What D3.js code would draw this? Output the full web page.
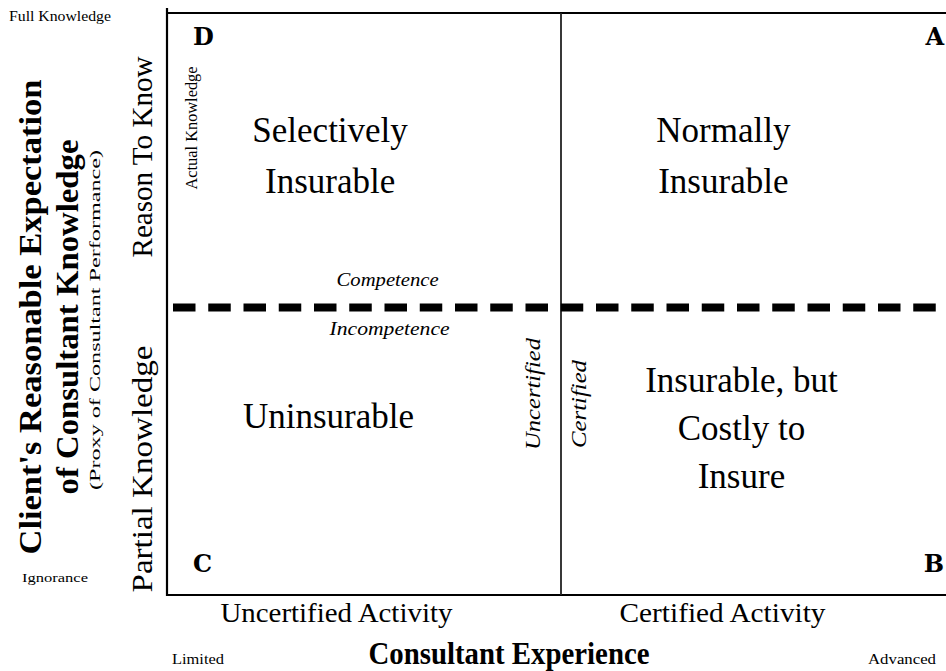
<!DOCTYPE html>
<html>
<head>
<meta charset="utf-8">
<script src="https://cdn.jsdelivr.net/npm/d3@7"></script>
<style>
  html, body { margin: 0; padding: 0; background: #fff; }
  svg { display: block; }
  text { font-family: "Liberation Serif", "Times New Roman", serif; fill: #000; }
</style>
</head>
<body>
<svg id="chart" width="946" height="671"></svg>
<script>
// ---------- data ----------
const xCategories = ["Uncertified Activity", "Certified Activity"];
const yCategories = ["Partial Knowledge", "Reason To Know"];
const quadrantLetters = ["D", "A", "C", "B"];
const quadrantLabels = [
  ["Selectively", "Insurable"],
  ["Normally", "Insurable"],
  ["Uninsurable"],
  ["Insurable, but", "Costly to", "Insure"]
];
const thresholdLabels = ["Competence", "Incompetence"];
const certificationLabels = ["Uncertified", "Certified"];
const competenceThreshold = 0.494;
const xAxisTitle = "Consultant Experience";
const xAxisEnds = ["Limited", "Advanced"];
const yAxisTitle = ["Client's Reasonable Expectation", "of Consultant Knowledge"];
const yAxisSubtitle = "(Proxy of Consultant Performance)";
const yAxisEnds = ["Ignorance", "Full Knowledge"];
const actualKnowledgeLabel = "Actual Knowledge";

// ---------- layout ----------
const svg = d3.select("#chart");
const plot = { left: 167, right: 955, top: 13, bottom: 595 };

const x = d3.scaleBand().domain(xCategories).range([plot.left, plot.right]);
const y = d3.scaleLinear().domain([0, 1]).range([plot.bottom, plot.top]);
const bw = x.bandwidth();
const midX = x(xCategories[1]);
const thrY = y(competenceThreshold);

// ---------- frame ----------
const g = svg.append("g");
g.append("line").attr("x1", plot.left).attr("x2", plot.right)
  .attr("y1", plot.top).attr("y2", plot.top)
  .attr("stroke", "#000").attr("stroke-width", 2);
g.append("line").attr("x1", plot.left).attr("x2", plot.right)
  .attr("y1", plot.bottom).attr("y2", plot.bottom)
  .attr("stroke", "#000").attr("stroke-width", 2);
g.append("line").attr("x1", plot.left).attr("x2", plot.left)
  .attr("y1", plot.top - 5).attr("y2", plot.bottom + 1)
  .attr("stroke", "#000").attr("stroke-width", 2.2);
g.append("line").attr("x1", plot.right).attr("x2", plot.right)
  .attr("y1", plot.top).attr("y2", plot.bottom)
  .attr("stroke", "#000").attr("stroke-width", 2);
g.append("line").attr("x1", midX).attr("x2", midX)
  .attr("y1", plot.top).attr("y2", plot.bottom)
  .attr("stroke", "#222").attr("stroke-width", 1.8);

// dashed competence line
g.append("line").attr("x1", plot.left + 6).attr("x2", plot.right)
  .attr("y1", thrY).attr("y2", thrY)
  .attr("stroke", "#000").attr("stroke-width", 8)
  .attr("stroke-dasharray", "22.5,12.75");

// ---------- quadrant letters ----------
const letterPos = [
  { x: plot.left + 26, y: plot.top + 32, anchor: "start" },
  { x: plot.right - 11, y: plot.top + 32, anchor: "end" },
  { x: plot.left + 26, y: plot.bottom - 23, anchor: "start" },
  { x: plot.right - 11, y: plot.bottom - 23, anchor: "end" }
];
g.selectAll("text.letter").data(quadrantLetters).join("text")
  .attr("class", "letter")
  .attr("x", (d, i) => letterPos[i].x)
  .attr("y", (d, i) => letterPos[i].y)
  .attr("text-anchor", (d, i) => letterPos[i].anchor)
  .style("font-family", "'DejaVu Serif', serif")
  .style("font-weight", "bold")
  .style("font-size", "24px")
  .text(d => d);

// ---------- quadrant labels ----------
const labelLayout = [
  { cx: x(xCategories[0]) + bw * 0.414, y0: plot.top + 129, dy: 51 },
  { cx: x(xCategories[1]) + bw * 0.412, y0: plot.top + 129, dy: 51 },
  { cx: x(xCategories[0]) + bw * 0.41, y0: thrY + 121, dy: 48 },
  { cx: x(xCategories[1]) + bw * 0.458, y0: thrY + 85, dy: 48 }
];
quadrantLabels.forEach((lines, i) => {
  lines.forEach((t, j) => {
    g.append("text")
      .attr("x", labelLayout[i].cx)
      .attr("y", labelLayout[i].y0 + j * labelLayout[i].dy)
      .attr("text-anchor", "middle")
      .style("font-size", "35px")
      .text(t);
  });
});

// ---------- competence labels ----------
const compCx = x(xCategories[0]) + bw * 0.565;
g.append("text").attr("x", compCx - 2).attr("y", thrY - 21)
  .attr("text-anchor", "middle").style("font-style", "italic").style("font-size", "18px")
  .attr("textLength", 102).attr("lengthAdjust", "spacingAndGlyphs")
  .text(thresholdLabels[0]);
g.append("text").attr("x", compCx).attr("y", thrY + 28)
  .attr("text-anchor", "middle").style("font-style", "italic").style("font-size", "18px")
  .attr("textLength", 120).attr("lengthAdjust", "spacingAndGlyphs")
  .text(thresholdLabels[1]);

// ---------- certification labels (vertical) ----------
const certLayout = [
  { bx: midX - 21, cy: 394, len: 112 },
  { bx: midX + 25, cy: 404, len: 88 }
];
certificationLabels.forEach((t, i) => {
  g.append("text")
    .attr("transform", `translate(${certLayout[i].bx},${certLayout[i].cy}) rotate(-90)`)
    .attr("text-anchor", "middle")
    .style("font-style", "italic").style("font-size", "20px")
    .attr("textLength", certLayout[i].len).attr("lengthAdjust", "spacingAndGlyphs")
    .text(t);
});

// Actual Knowledge
g.append("text")
  .attr("transform", `translate(${plot.left + 30},${128}) rotate(-90)`)
  .attr("text-anchor", "middle")
  .style("font-size", "16px")
  .attr("textLength", 123).attr("lengthAdjust", "spacingAndGlyphs")
  .text(actualKnowledgeLabel);

// ---------- x axis band labels ----------
const xCatLayout = { "Uncertified Activity": { c: 0.43, len: 232 }, "Certified Activity": { c: 0.41, len: 206 } };
g.selectAll("text.xcat").data(xCategories).join("text")
  .attr("class", "xcat")
  .attr("x", d => x(d) + bw * xCatLayout[d].c)
  .attr("y", plot.bottom + 27)
  .attr("text-anchor", "middle")
  .style("font-size", "28px")
  .attr("textLength", d => xCatLayout[d].len).attr("lengthAdjust", "spacingAndGlyphs")
  .text(d => d);

// ---------- y axis band labels (rotated) ----------
const yLabelLayout = { "Reason To Know": { c: 157, len: 201 }, "Partial Knowledge": { c: 469, len: 247 } };
g.selectAll("text.ycat").data(yCategories).join("text")
  .attr("class", "ycat")
  .attr("transform", d => `translate(${plot.left - 15},${yLabelLayout[d].c}) rotate(-90)`)
  .attr("text-anchor", "middle")
  .style("font-size", "30px")
  .attr("textLength", d => yLabelLayout[d].len).attr("lengthAdjust", "spacingAndGlyphs")
  .text(d => d);

// ---------- axis titles ----------
g.append("text").attr("x", 509).attr("y", 664)
  .attr("text-anchor", "middle")
  .style("font-weight", "bold").style("font-size", "32px")
  .attr("textLength", 281).attr("lengthAdjust", "spacingAndGlyphs")
  .text(xAxisTitle);
g.append("text").attr("x", 172).attr("y", 664)
  .style("font-size", "15px")
  .attr("textLength", 52).attr("lengthAdjust", "spacingAndGlyphs")
  .text(xAxisEnds[0]);
g.append("text").attr("x", 868).attr("y", 664)
  .style("font-size", "15px")
  .attr("textLength", 68).attr("lengthAdjust", "spacingAndGlyphs")
  .text(xAxisEnds[1]);

const yTitleLayout = [ { bx: 41, c: 317, len: 475 }, { bx: 78, c: 317, len: 355 } ];
yAxisTitle.forEach((t, i) => {
  g.append("text")
    .attr("transform", `translate(${yTitleLayout[i].bx},${yTitleLayout[i].c}) rotate(-90)`)
    .attr("text-anchor", "middle")
    .style("font-weight", "bold").style("font-size", "31px")
    .attr("textLength", yTitleLayout[i].len).attr("lengthAdjust", "spacingAndGlyphs")
    .text(t);
});
g.append("text")
  .attr("transform", `translate(100,320) rotate(-90)`)
  .attr("text-anchor", "middle")
  .style("font-size", "14px")
  .attr("textLength", 340).attr("lengthAdjust", "spacingAndGlyphs")
  .text(yAxisSubtitle);

g.append("text").attr("x", 22).attr("y", 582)
  .style("font-size", "13px")
  .attr("textLength", 66).attr("lengthAdjust", "spacingAndGlyphs")
  .text(yAxisEnds[0]);
g.append("text").attr("x", 9).attr("y", 21)
  .style("font-size", "14px")
  .attr("textLength", 102).attr("lengthAdjust", "spacingAndGlyphs")
  .text(yAxisEnds[1]);
</script>
</body>
</html>
